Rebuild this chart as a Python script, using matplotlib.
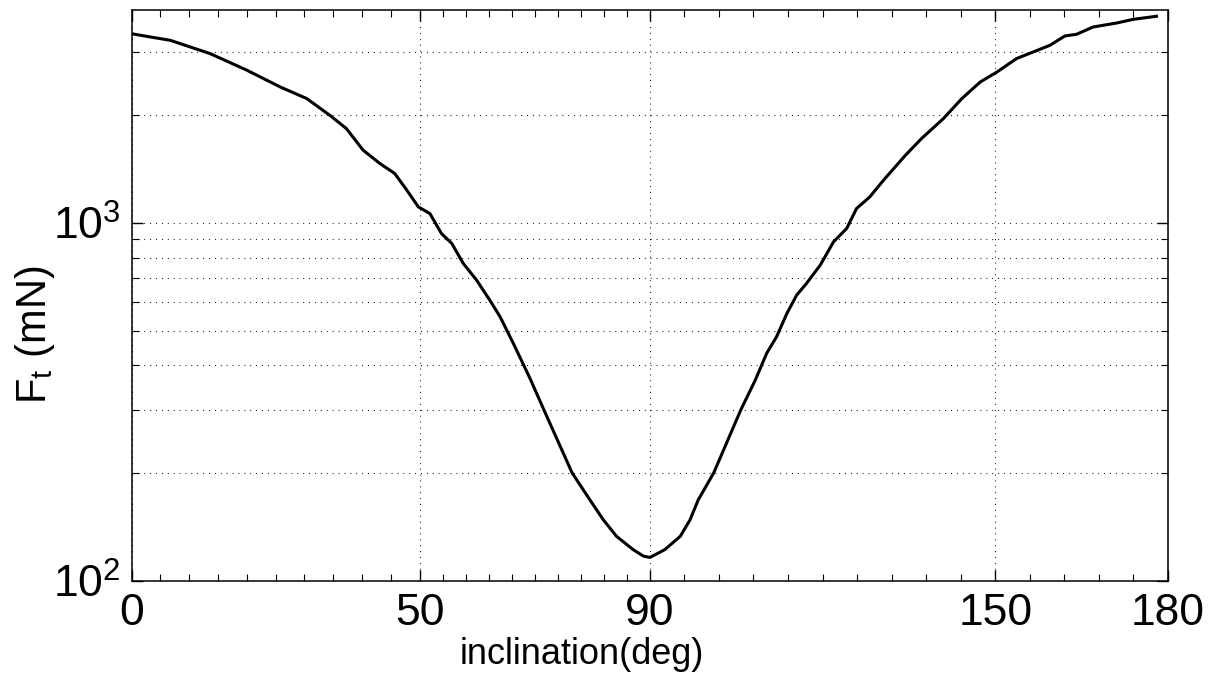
import numpy as np
import matplotlib
matplotlib.use("Agg")
import matplotlib.pyplot as plt
from matplotlib.ticker import FixedLocator, LogLocator, NullFormatter, FuncFormatter

# thrust vs inclination
incl = [0, 3.2, 6.7, 13.6, 20.0, 25.8, 30.4, 34.4, 37.3, 40.2, 43.1, 45.7, 47.8,
        49.8, 51.8, 53.8, 55.6, 57.6, 59.9, 62.2, 64.0, 66.3, 69.2, 71.6, 76.5,
        79.6, 81.9, 84.2, 87.1, 88.9, 90.0, 92.6, 95.3, 97.0, 98.4, 101.1, 105.8,
        108.3, 110.3, 112.0, 113.8, 115.5, 117.2, 119.6, 121.9, 124.2, 125.9,
        128.2, 130.6, 134.4, 137.2, 141.0, 144.2, 147.4, 150.3, 153.7, 156.6,
        159.5, 162.1, 164.1, 167.0, 171.1, 174.0, 178.0]
ft = [3380, 3311, 3240, 2975, 2673, 2399, 2227, 2000, 1835, 1597, 1466, 1374, 1234,
      1108, 1062, 934, 876, 770, 692, 608, 546, 460, 367, 300, 200,
      168, 148, 133, 122, 117, 116, 122, 133, 148, 168, 200, 300,
      363, 432, 480, 558, 628, 677, 762, 885, 965, 1097,
      1182, 1317, 1546, 1722, 1958, 2227, 2478, 2642, 2881, 3006,
      3138, 3332, 3367, 3530, 3622, 3709, 3782]

xticks = [0, 50, 90, 150, 180]
yticks = [100, 1000]

plt.rcParams['font.family'] = ['Liberation Sans', 'DejaVu Sans']
plt.rcParams['mathtext.fontset'] = 'custom'
plt.rcParams['mathtext.rm'] = 'Liberation Sans'
plt.rcParams['mathtext.it'] = 'Liberation Sans'

fig = plt.figure(figsize=(12.09, 6.8), dpi=100)
ax = fig.add_axes([0.1089, 0.1463, 0.8572, 0.8397])

ax.plot(incl, ft, color='black', lw=2.2)

ax.set_yscale('log')
ax.set_xlim(0, 180)
ax.set_ylim(100, 3950)

# matlab-like minor ticks, 10 per gap (5 on the last one)
minor = (list(np.arange(5, 50, 5)) + list(np.arange(54, 90, 4))
         + list(np.arange(96, 150, 6)) + list(np.arange(156, 180, 6)))
ax.set_xticks(xticks)
ax.set_xticks(minor, minor=True)
ax.yaxis.set_major_locator(FixedLocator(yticks))
ax.yaxis.set_minor_locator(LogLocator(base=10, subs=range(2, 10)))
ax.yaxis.set_minor_formatter(NullFormatter())
ax.yaxis.set_major_formatter(
    FuncFormatter(lambda v, p: r'$\mathregular{10^{%d}}$' % round(np.log10(v))))

ax.tick_params(which='both', direction='in', top=True, right=True,
               labelsize=32, color='black')
ax.tick_params(which='major', length=8, width=1)
ax.tick_params(which='minor', length=5, width=0.8)
ax.tick_params(axis='x', pad=9)
ax.tick_params(axis='y', pad=8)

dots = (0, (0.8, 4.5))
ax.grid(True, which='major', axis='x', color='black', lw=0.8, linestyle=dots)
ax.grid(True, which='both', axis='y', color='black', lw=0.8, linestyle=dots)

for s in ax.spines.values():
    s.set_linewidth(1.1)

ax.set_xlabel('inclination(deg)', fontsize=26)
ax.xaxis.set_label_coords(0.4346, -0.099)
ax.set_ylabel(r'$\mathregular{F_t}$ (mN)', fontsize=30)
ax.yaxis.set_label_coords(-0.072, 0.43)

fig.savefig('out.png', dpi=100)
